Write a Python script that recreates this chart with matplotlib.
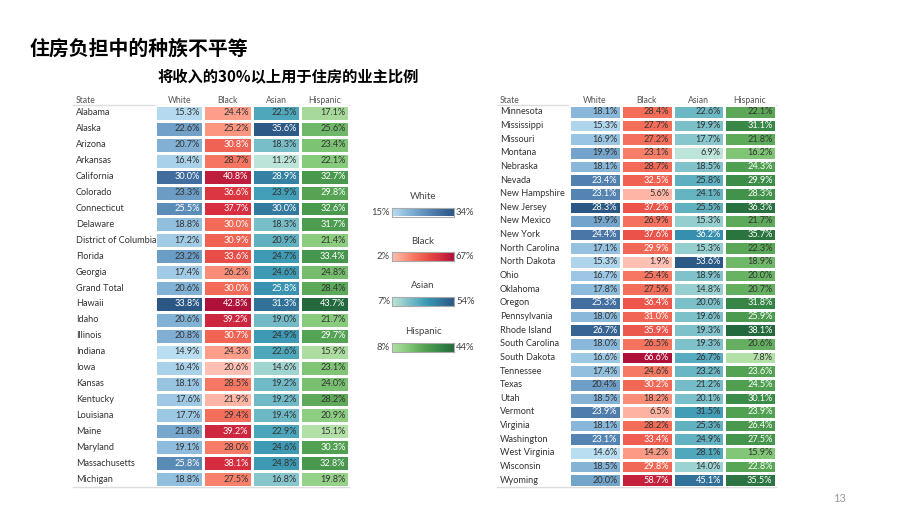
import numpy as np
import matplotlib
matplotlib.use("Agg")
import matplotlib.pyplot as plt
from matplotlib.colors import LinearSegmentedColormap, Normalize
from matplotlib.transforms import blended_transform_factory

plt.rcParams["font.family"] = ["Lato", "DejaVu Sans"]

title = "住房负担中的种族不平等"
subtitle = "将收入的30%以上用于住房的业主比例"
groups = ["White", "Black", "Asian", "Hispanic"]

left_states = ["Alabama", "Alaska", "Arizona", "Arkansas", "California", "Colorado",
               "Connecticut", "Delaware", "District of Columbia", "Florida", "Georgia",
               "Grand Total", "Hawaii", "Idaho", "Illinois", "Indiana", "Iowa", "Kansas",
               "Kentucky", "Louisiana", "Maine", "Maryland", "Massachusetts", "Michigan"]
left_white = [15.3, 22.6, 20.7, 16.4, 30.0, 23.3, 25.5, 18.8, 17.2, 23.2, 17.4, 20.6,
              33.8, 20.6, 20.8, 14.9, 16.4, 18.1, 17.6, 17.7, 21.8, 19.1, 25.8, 18.8]
left_black = [24.4, 25.2, 30.8, 28.7, 40.8, 36.6, 37.7, 30.0, 30.9, 33.6, 26.2, 30.0,
              42.8, 39.2, 30.7, 24.3, 20.6, 28.5, 21.9, 29.4, 39.2, 28.0, 38.1, 27.5]
left_asian = [22.5, 35.6, 18.3, 11.2, 28.9, 23.9, 30.0, 18.3, 20.9, 24.7, 24.6, 25.8,
              31.3, 19.0, 24.9, 22.6, 14.6, 19.2, 19.2, 19.4, 22.9, 24.6, 24.8, 16.8]
left_hisp = [17.1, 25.6, 23.4, 22.1, 32.7, 29.8, 32.6, 31.7, 21.4, 33.4, 24.8, 28.4,
             43.7, 21.7, 29.7, 15.9, 23.1, 24.0, 28.2, 20.9, 15.1, 30.3, 32.8, 19.8]

right_states = ["Minnesota", "Mississippi", "Missouri", "Montana", "Nebraska", "Nevada",
                "New Hampshire", "New Jersey", "New Mexico", "New York", "North Carolina",
                "North Dakota", "Ohio", "Oklahoma", "Oregon", "Pennsylvania", "Rhode Island",
                "South Carolina", "South Dakota", "Tennessee", "Texas", "Utah", "Vermont",
                "Virginia", "Washington", "West Virginia", "Wisconsin", "Wyoming"]
right_white = [18.1, 15.3, 16.9, 19.9, 18.1, 23.4, 23.1, 28.3, 19.9, 24.4, 17.1, 15.3, 16.7, 17.8,
               25.3, 18.0, 26.7, 18.0, 16.6, 17.4, 20.4, 18.5, 23.9, 18.1, 23.1, 14.6, 18.5, 20.0]
right_black = [28.4, 27.7, 27.2, 23.1, 28.7, 32.5, 5.6, 37.2, 26.9, 37.6, 29.9, 1.9, 25.4, 27.5,
               36.4, 31.0, 35.9, 26.5, 66.6, 24.6, 30.2, 18.2, 6.5, 28.2, 33.4, 14.2, 29.8, 58.7]
right_asian = [22.6, 19.9, 17.7, 6.9, 18.5, 25.8, 24.1, 25.5, 15.3, 36.2, 15.3, 53.6, 18.9, 14.8,
               20.0, 19.6, 19.3, 19.3, 26.7, 23.2, 21.2, 20.1, 31.5, 25.3, 24.9, 28.1, 14.0, 45.1]
right_hisp = [22.1, 31.1, 21.8, 16.2, 24.3, 29.9, 28.3, 36.3, 21.7, 35.7, 22.3, 18.9, 20.0, 20.7,
              31.8, 25.9, 38.1, 20.6, 7.8, 23.6, 24.5, 30.1, 23.9, 26.4, 27.5, 15.9, 22.8, 35.5]

cmaps = [
    LinearSegmentedColormap.from_list("blue", ["#b9ddf1", "#89b8da", "#6394be", "#4672a4", "#2a5783"]),
    LinearSegmentedColormap.from_list("red", ["#ffc0b3", "#fc9882", "#f46e5a", "#e84a45", "#d42b3f", "#ae123a"]),
    LinearSegmentedColormap.from_list("teal", ["#bce4d8", "#a3d6d2", "#81c3cb", "#65b3c2", "#45a2b9",
                                               "#368fae", "#347da0", "#306a93", "#2c5985"]),
    LinearSegmentedColormap.from_list("green", ["#b3e0a6", "#85c97a", "#56a454", "#3b8b48", "#24693d"]),
]
# normalised level above which the cell label turns white
text_cut = [0.5, 0.42, 0.565, 0.49]

W, H = 920, 518
fig = plt.figure(figsize=(W / 100, H / 100), dpi=100)


def fx(px):
    return px / W


def fy(py):
    return 1 - py / H


def draw_table(states, cols, x0, x1, state_x):
    n = len(states)
    ax = fig.add_axes([fx(x0), fy(487), fx(x1 - x0), (487 - 105) / H])
    ax.set_xlim(0, 4)
    ax.set_ylim(n, 0)
    ax.axis("off")
    rows = np.arange(n + 1)
    for j, vals in enumerate(cols):
        vals = np.array(vals)
        norm = Normalize(vals.min(), vals.max())
        ax.pcolormesh([j, j + 1], rows, vals[:, None], cmap=cmaps[j], norm=norm,
                      edgecolors="white", linewidth=0.9)
        for i, v in enumerate(vals):
            c = "white" if norm(v) >= text_cut[j] else "#333333"
            ax.annotate(f"{v:.1f}%", (j + 1, i + 0.5), xytext=(-2.5, 0),
                        textcoords="offset points", ha="right", va="center",
                        fontsize=6.6, color=c)
    tr = blended_transform_factory(fig.transFigure, ax.transData)
    for i, s in enumerate(states):
        ax.text(fx(state_x), i + 0.5, s, transform=tr, ha="left", va="center",
                fontsize=6.6, color="#333333")
    for yy in (0, n):
        ax.plot([fx(state_x - 3), fx(x1)], [yy, yy], transform=tr, color="#dddddd",
                lw=1, clip_on=False, zorder=0)
    htr = blended_transform_factory(ax.transData, fig.transFigure)
    for j, g in enumerate(groups):
        ax.text(j + 0.5, fy(100), g, transform=htr, ha="center", va="center",
                fontsize=6.2, color="#555555")
    fig.text(fx(state_x), fy(100), "State", ha="left", va="center", fontsize=6.2, color="#555555")


draw_table(left_states, [left_white, left_black, left_asian, left_hisp], 155, 349, 76)
draw_table(right_states, [right_white, right_black, right_asian, right_hisp], 569, 776, 500)

# legends
all_cols = [left_white + right_white, left_black + right_black,
            left_asian + right_asian, left_hisp + right_hisp]
bar_y = [212, 256.5, 301.5, 347]
for j, g in enumerate(groups):
    lo, hi = min(all_cols[j]), max(all_cols[j])
    cy = bar_y[j]
    lax = fig.add_axes([fx(392), fy(cy + 4.5), fx(62), 9 / H])
    grad = np.linspace(lo, hi, 256)[None, :]
    lax.imshow(grad, cmap=cmaps[j], extent=[lo, hi, 0, 1], aspect="auto")
    lax.set_xticks([])
    lax.set_yticks([])
    for sp in lax.spines.values():
        sp.set_color("#aaaaaa")
        sp.set_linewidth(0.8)
    fig.text(fx(423), fy(cy - 15.5), g, ha="center", va="center", fontsize=7, color="#444444")
    fig.text(fx(390), fy(cy), f"{round(lo)}%", ha="right", va="center", fontsize=6.8, color="#444444")
    fig.text(fx(456), fy(cy), f"{round(hi)}%", ha="left", va="center", fontsize=6.8, color="#444444")

cjk = ["Noto Sans CJK SC", "DejaVu Sans"]
fig.text(fx(30), fy(48), title, ha="left", va="center", fontsize=14.3,
         fontweight="bold", family=cjk, color="black")
fig.text(fx(158), fy(76), subtitle, ha="left", va="center", fontsize=11,
         fontweight="bold", family=cjk, color="black")
fig.text(fx(840), fy(499), "13", ha="center", va="center", fontsize=8, color="#999999")

fig.savefig("out.png", dpi=100)
